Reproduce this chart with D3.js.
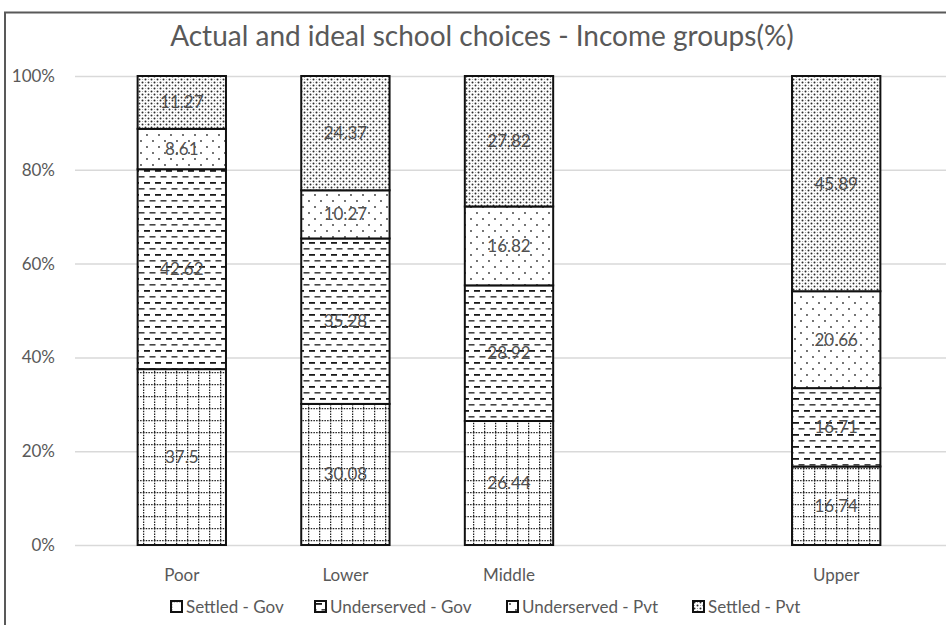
<!DOCTYPE html>
<html>
<head>
<meta charset="utf-8">
<title>Actual and ideal school choices</title>
<style>
  body { margin: 0; background: #fff; }
  svg { font-family: Lato, "Open Sans", sans-serif; }
  .tick text { fill: #595959; font-size: 17px; }
  .lbl { fill: #505050; font-size: 17px; text-anchor: middle; }
</style>
</head>
<body>
<svg width="946" height="625"></svg>
<script src="https://d3js.org/d3.v7.min.js"></script>
<script>
// data
const groups = ['Poor', 'Lower', 'Middle', 'Upper'];
const seriesNames = ['Settled - Gov', 'Underserved - Gov', 'Underserved - Pvt', 'Settled - Pvt'];
const settledGov = [37.5, 30.08, 26.44, 16.74];
const underGov = [42.62, 35.28, 28.92, 16.71];
const underPvt = [8.61, 10.27, 16.82, 20.66];
const settledPvt = [11.27, 24.37, 27.82, 45.89];
const yTicks = [0, 20, 40, 60, 80, 100];

const width = 946, height = 625;
const svg = d3.select('svg');

// patterns
const defs = svg.append('defs');
const pGrid = defs.append('pattern').attr('id', 'p0').attr('patternUnits', 'userSpaceOnUse')
  .attr('width', 11).attr('height', 12);
pGrid.append('rect').attr('width', 11).attr('height', 12).attr('fill', '#fff');
pGrid.append('line').attr('x1', 0.6).attr('x2', 0.6).attr('y1', 0).attr('y2', 12)
  .attr('stroke', '#222').attr('stroke-width', 1.3).attr('stroke-dasharray', '1.5,1.2');
pGrid.append('line').attr('x1', 0).attr('x2', 11).attr('y1', 0.6).attr('y2', 0.6)
  .attr('stroke', '#222').attr('stroke-width', 1.3).attr('stroke-dasharray', '1.5,1.2');

const pDash = defs.append('pattern').attr('id', 'p1').attr('patternUnits', 'userSpaceOnUse')
  .attr('width', 11).attr('height', 12);
pDash.append('rect').attr('width', 11).attr('height', 12).attr('fill', '#fff');
pDash.append('rect').attr('x', 1).attr('y', 2).attr('width', 6).attr('height', 1.8).attr('fill', '#1a1a1a');
pDash.append('rect').attr('x', 6.5).attr('y', 8).attr('width', 6).attr('height', 1.6).attr('fill', '#444');
pDash.append('rect').attr('x', -4.5).attr('y', 8).attr('width', 6).attr('height', 1.6).attr('fill', '#444');

const pSparse = defs.append('pattern').attr('id', 'p2').attr('patternUnits', 'userSpaceOnUse')
  .attr('width', 12).attr('height', 12);
pSparse.append('rect').attr('width', 12).attr('height', 12).attr('fill', '#fff');
pSparse.append('circle').attr('cx', 3).attr('cy', 3).attr('r', 0.9).attr('fill', '#333');
pSparse.append('circle').attr('cx', 9).attr('cy', 9).attr('r', 0.9).attr('fill', '#333');

const pDense = defs.append('pattern').attr('id', 'p3').attr('patternUnits', 'userSpaceOnUse')
  .attr('width', 6).attr('height', 6);
pDense.append('rect').attr('width', 6).attr('height', 6).attr('fill', '#fff');
pDense.append('circle').attr('cx', 1.5).attr('cy', 1.5).attr('r', 1).attr('fill', '#2a2a2a');
pDense.append('circle').attr('cx', 4.5).attr('cy', 4.5).attr('r', 1).attr('fill', '#2a2a2a');
pDense.append('circle').attr('cx', 4.5).attr('cy', 1.5).attr('r', 0.6).attr('fill', '#999');
pDense.append('circle').attr('cx', 1.5).attr('cy', 4.5).attr('r', 0.6).attr('fill', '#999');

const fills = ['url(#p0)', 'url(#p1)', 'url(#p2)', 'url(#p3)'];

// outer frame (top and left visible)
svg.append('path').attr('d', `M5,${height}V12.5H${width}`)
  .attr('fill', 'none').attr('stroke', '#595959').attr('stroke-width', 2);

// title
svg.append('text').attr('x', 482).attr('y', 46).attr('text-anchor', 'middle')
  .attr('fill', '#595959').attr('font-size', 28)
  .text('Actual and ideal school choices - Income groups(%)');

// scales: the fourth slot is empty in the picture
const x = d3.scaleBand()
  .domain(['Poor', 'Lower', 'Middle', '', 'Upper'])
  .range([100, 918]).paddingInner(0.46).paddingOuter(0.23);
const y = d3.scaleLinear().domain([0, 100]).range([545, 76]);

// y axis + gridlines
const yAxis = svg.append('g').attr('transform', 'translate(75,0)')
  .call(d3.axisLeft(y).tickValues(yTicks).tickFormat(d => d + '%').tickSize(-(width - 75)).tickPadding(20));
yAxis.select('.domain').remove();
yAxis.selectAll('.tick line').attr('stroke', '#d9d9d9').attr('stroke-width', 1.5);
yAxis.selectAll('.tick text').style('font-family', 'Lato, sans-serif');

// stack
const rows = groups.map((g, i) => ({
  group: g, s0: settledGov[i], s1: underGov[i], s2: underPvt[i], s3: settledPvt[i]
}));
const stack = d3.stack().keys(['s0', 's1', 's2', 's3'])(rows);

const layers = svg.append('g').selectAll('g').data(stack).join('g')
  .attr('fill', (d, i) => fills[i]);
layers.selectAll('rect').data(d => d).join('rect')
  .attr('x', d => x(d.data.group))
  .attr('width', x.bandwidth())
  .attr('y', d => y(d[1]))
  .attr('height', d => y(d[0]) - y(d[1]))
  .attr('stroke', '#111').attr('stroke-width', 2);

// data labels
stack.forEach(layer => {
  svg.append('g').selectAll('text').data(layer).join('text')
    .attr('class', 'lbl')
    .attr('x', d => x(d.data.group) + x.bandwidth() / 2)
    .attr('y', d => (y(d[0]) + y(d[1])) / 2 + 6)
    .text(d => d.data[layer.key]);
});

// category labels
svg.append('g').selectAll('text').data(groups).join('text')
  .attr('x', d => x(d) + x.bandwidth() / 2).attr('y', 581)
  .attr('text-anchor', 'middle').attr('fill', '#595959').attr('font-size', 17)
  .text(d => d);

// legend
const legendX = [171, 315, 507, 693];
const leg = svg.append('g').selectAll('g').data(seriesNames).join('g')
  .attr('transform', (d, i) => `translate(${legendX[i]},601)`);
leg.append('rect').attr('width', 11).attr('height', 11)
  .attr('fill', (d, i) => fills[i]).attr('stroke', '#111').attr('stroke-width', 2);
leg.append('text').attr('x', 15).attr('y', 12).attr('fill', '#595959').attr('font-size', 17)
  .text(d => d);
</script>
</body>
</html>
